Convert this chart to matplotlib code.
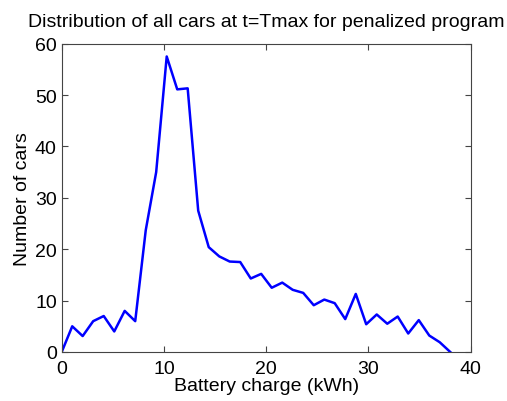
import matplotlib
matplotlib.use("Agg")
import matplotlib.pyplot as plt

plt.rcParams['font.family'] = ['Liberation Sans', 'DejaVu Sans']

# Battery charge bin positions (kWh)
charge_kwh = [0.00, 1.03, 2.05, 3.08, 4.11, 5.14, 6.16, 7.19, 8.22, 9.24,
              10.27, 11.30, 12.32, 13.35, 14.38, 15.41, 16.43, 17.46, 18.49, 19.51,
              20.54, 21.57, 22.59, 23.62, 24.65, 25.68, 26.70, 27.73, 28.76, 29.78,
              30.81, 31.84, 32.86, 33.89, 34.92, 35.95, 36.97, 38.00]

# Number of cars in each bin
num_cars = [0.0, 5.0, 3.1, 6.0, 7.0, 4.0, 8.0, 6.0, 23.7, 35.0,
            57.5, 51.1, 51.3, 27.5, 20.4, 18.6, 17.6, 17.5, 14.3, 15.2,
            12.5, 13.5, 12.1, 11.5, 9.1, 10.2, 9.5, 6.4, 11.3, 5.4,
            7.3, 5.5, 6.9, 3.6, 6.2, 3.2, 1.9, 0.0]

x_ticks = [0, 10, 20, 30, 40]
y_ticks = [0, 10, 20, 30, 40, 50, 60]

fig = plt.figure(figsize=(5.07, 4.02), dpi=100)
ax = fig.add_axes([0.1217, 0.1219, 0.8067, 0.7671])

ax.plot(charge_kwh, num_cars, color=(0, 0, 1), linewidth=1.8)

ax.set_xlim(0, 40)
ax.set_ylim(0, 60)
ax.set_xticks(x_ticks)
ax.set_yticks(y_ticks)
ax.tick_params(direction='in', length=4, width=0.8, top=True, right=True,
               labelsize=14, colors='#444444', labelcolor='black')
ax.tick_params(axis='x', pad=5.5)
ax.tick_params(axis='y', pad=3.5)
for s in ax.spines.values():
    s.set_color('#444444')
    s.set_linewidth(0.8)

ax.set_xlabel('Battery charge (kWh)', fontsize=14, labelpad=0)
ax.set_ylabel('Number of cars', fontsize=14, labelpad=3)
ax.set_title('Distribution of all cars at t=Tmax for penalized program',
             fontsize=14, pad=13)

fig.savefig('out.png', dpi=100)
